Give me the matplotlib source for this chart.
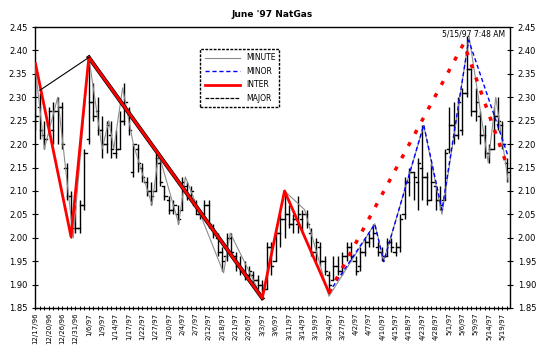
import matplotlib
matplotlib.use('Agg')
import matplotlib.pyplot as plt
from matplotlib.ticker import MultipleLocator, FormatStrFormatter

# tick labels every 3 trading days
tick_dates = ['12/17/96', '12/20/96', '12/26/96', '12/31/96', '1/6/97', '1/9/97',
              '1/14/97', '1/17/97', '1/22/97', '1/27/97', '1/30/97', '2/4/97',
              '2/7/97', '2/12/97', '2/18/97', '2/21/97', '2/26/97', '3/3/97',
              '3/6/97', '3/11/97', '3/14/97', '3/19/97', '3/24/97', '3/27/97',
              '4/2/97', '4/7/97', '4/10/97', '4/15/97', '4/18/97', '4/23/97',
              '4/28/97', '5/1/97', '5/6/97', '5/9/97', '5/14/97', '5/19/97']

# daily bars
high = [2.37, 2.31, 2.25, 2.28, 2.29, 2.30, 2.29, 2.16, 2.10, 2.07,
        2.08, 2.19, 2.39, 2.33, 2.30, 2.26, 2.25, 2.25, 2.23, 2.27,
        2.33, 2.28, 2.20, 2.20, 2.16, 2.13, 2.12, 2.18, 2.17, 2.11,
        2.09, 2.08, 2.07, 2.13, 2.12, 2.11, 2.08, 2.06, 2.08, 2.08,
        2.03, 2.01, 1.98, 2.01, 2.01, 1.97, 1.96, 1.95, 1.94, 1.93,
        1.92, 1.91, 1.99, 1.99, 2.02, 2.05, 2.10, 2.07, 2.05, 2.09,
        2.06, 2.06, 2.02, 2.00, 1.99, 1.96, 1.93, 1.96, 1.96, 1.97,
        1.99, 1.99, 1.96, 1.98, 2.00, 2.01, 2.03, 1.99, 1.98, 2.00,
        2.00, 1.99, 2.05, 2.13, 2.15, 2.14, 2.17, 2.24, 2.14, 2.16,
        2.11, 2.11, 2.19, 2.28, 2.29, 2.30, 2.32, 2.43, 2.36, 2.32,
        2.27, 2.24, 2.20, 2.28, 2.30, 2.25, 2.17]
low = [2.23, 2.21, 2.19, 2.22, 2.20, 2.20, 2.19, 2.08, 2.00, 2.01,
       2.01, 2.06, 2.20, 2.25, 2.22, 2.17, 2.18, 2.17, 2.17, 2.19,
       2.24, 2.22, 2.13, 2.14, 2.12, 2.09, 2.07, 2.10, 2.11, 2.08,
       2.05, 2.05, 2.03, 2.06, 2.08, 2.08, 2.05, 2.04, 2.05, 2.02,
       2.00, 1.96, 1.93, 1.95, 1.96, 1.93, 1.92, 1.91, 1.91, 1.90,
       1.89, 1.87, 1.89, 1.92, 1.95, 1.98, 2.00, 2.02, 2.01, 2.01,
       2.01, 2.02, 1.96, 1.95, 1.94, 1.92, 1.88, 1.91, 1.92, 1.92,
       1.95, 1.95, 1.92, 1.93, 1.96, 1.98, 1.98, 1.96, 1.95, 1.96,
       1.97, 1.96, 1.97, 2.04, 2.09, 2.08, 2.06, 2.08, 2.07, 2.08,
       2.06, 2.06, 2.08, 2.18, 2.20, 2.21, 2.22, 2.30, 2.26, 2.25,
       2.20, 2.17, 2.16, 2.19, 2.23, 2.19, 2.12]
opn = [2.33, 2.28, 2.22, 2.24, 2.23, 2.27, 2.28, 2.15, 2.09, 2.02,
       2.02, 2.07, 2.21, 2.29, 2.27, 2.23, 2.20, 2.22, 2.18, 2.19,
       2.25, 2.27, 2.14, 2.19, 2.15, 2.12, 2.10, 2.10, 2.16, 2.11,
       2.08, 2.06, 2.05, 2.06, 2.11, 2.09, 2.07, 2.05, 2.05, 2.07,
       2.02, 2.00, 1.97, 1.96, 2.00, 1.96, 1.94, 1.93, 1.92, 1.92,
       1.91, 1.90, 1.89, 1.98, 1.95, 2.01, 2.04, 2.05, 2.03, 2.03,
       2.04, 2.05, 2.01, 1.97, 1.98, 1.95, 1.92, 1.91, 1.94, 1.93,
       1.96, 1.98, 1.95, 1.94, 1.97, 1.99, 2.00, 1.98, 1.97, 1.96,
       1.99, 1.97, 1.98, 2.05, 2.12, 2.14, 2.12, 2.15, 2.13, 2.08,
       2.11, 2.08, 2.08, 2.19, 2.24, 2.22, 2.23, 2.31, 2.36, 2.27,
       2.26, 2.22, 2.18, 2.19, 2.26, 2.24, 2.16]
close = [2.26, 2.23, 2.21, 2.27, 2.27, 2.28, 2.20, 2.09, 2.02, 2.02,
         2.07, 2.18, 2.29, 2.26, 2.23, 2.20, 2.24, 2.19, 2.19, 2.25,
         2.29, 2.23, 2.20, 2.16, 2.13, 2.10, 2.09, 2.17, 2.12, 2.09,
         2.06, 2.07, 2.04, 2.12, 2.09, 2.10, 2.05, 2.05, 2.07, 2.03,
         2.01, 1.97, 1.95, 2.00, 1.97, 1.94, 1.93, 1.92, 1.93, 1.91,
         1.90, 1.89, 1.98, 1.94, 2.01, 2.04, 2.05, 2.03, 2.04, 2.05,
         2.05, 2.03, 1.97, 1.99, 1.95, 1.93, 1.90, 1.94, 1.93, 1.96,
         1.98, 1.96, 1.93, 1.97, 1.99, 2.00, 2.01, 1.97, 1.96, 1.99,
         1.98, 1.98, 2.04, 2.12, 2.14, 2.13, 2.16, 2.13, 2.08, 2.12,
         2.08, 2.07, 2.18, 2.24, 2.22, 2.29, 2.31, 2.36, 2.27, 2.29,
         2.22, 2.18, 2.19, 2.26, 2.25, 2.20, 2.14]

# wave lines (day index, price)
minute_x = [0, 2, 5, 8.5, 12, 15, 16.5, 17.6, 19.6, 22, 26.2, 27.7, 32.2, 33.7,
            42.3, 43.8, 51, 56, 60.5, 66, 76.3, 78.3, 87.3, 91.4, 97.5, 101.8,
            103.5, 106.3]
minute_y = [2.36, 2.19, 2.30, 2.00, 2.385, 2.19, 2.25, 2.19, 2.32, 2.20, 2.07,
            2.18, 2.03, 2.13, 1.925, 2.01, 1.871, 2.10, 2.06, 1.875, 2.03, 1.95,
            2.24, 2.05, 2.43, 2.16, 2.30, 2.12]
minor_x = [66, 76.3, 78.3, 87.3, 91.4, 97.4, 106.3]
minor_y = [1.883, 2.029, 1.949, 2.241, 2.059, 2.422, 2.173]
inter_x = [0, 8, 12, 51, 56, 66]
inter_y = [2.372, 2.002, 2.385, 1.871, 2.100, 1.883]
inter_open_x = [66, 96.3, 106]
inter_open_y = [1.883, 2.415, 2.155]
major_x = [1, 12, 51]
major_y = [2.315, 2.385, 1.871]

fig = plt.figure(figsize=(5.38, 3.55), dpi=100)
ax = fig.add_axes([0.0651, 0.1324, 0.8829, 0.7915])

days = range(len(high))
ax.vlines(days, low, high, color='black', lw=1.0, zorder=2)
for d in days:
    ax.plot([d - 0.5, d], [opn[d], opn[d]], color='black', lw=1.0, zorder=2)
    ax.plot([d, d + 0.5], [close[d], close[d]], color='black', lw=1.0, zorder=2)

ax.plot(minute_x, minute_y, color='#8c8c8c', lw=0.8, zorder=3, label='MINUTE')
ax.plot(minor_x, minor_y, color='blue', lw=1, ls=(0, (3, 2)), zorder=4, label='MINOR')
# major: thin leg, then the leg hidden under the red inter line
ax.plot(major_x[:2], major_y[:2], color='black', lw=0.8, zorder=6)
ax.plot(major_x[1:], major_y[1:], color='black', lw=2.9, zorder=4)
ax.plot(inter_x, inter_y, color='red', lw=2, zorder=5, label='INTER')
ax.plot(inter_open_x, inter_open_y, color='red', lw=2.5, ls=(0, (1.2, 2.8)), zorder=5)
ax.plot([], [], color='black', lw=0.9, ls=(0, (3, 1)), label='MAJOR')

ax.set_xlim(-0.1, 106.7)
ax.set_ylim(1.85, 2.45)
ax.set_xticks(range(0, 106, 3))
ax.set_xticklabels(tick_dates, rotation=90, fontsize=5)
ax.xaxis.set_minor_locator(MultipleLocator(1))
ax.yaxis.set_major_locator(MultipleLocator(0.05))
ax.yaxis.set_major_formatter(FormatStrFormatter('%.2f'))
ax.tick_params(axis='y', labelsize=6, right=True, labelright=True,
               direction='inout', length=4, width=0.8)
ax.tick_params(axis='x', which='both', direction='inout', length=3, width=0.7, pad=2)
for s in ax.spines.values():
    s.set_linestyle((0, (2, 1)))
    s.set_linewidth(1)

ax.text(105.5, 2.435, '5/15/97 7:48 AM', fontsize=5.5, ha='right', va='center')
fig.text(0.506, 0.96, "June '97 NatGas", fontsize=6.5, fontweight='bold',
         ha='center', va='center')

leg = ax.legend(loc='upper left', bbox_to_anchor=(0.34, 0.935), fontsize=5.5,
                handlelength=4.6, labelspacing=0.6, borderpad=0.55,
                fancybox=False, framealpha=1, edgecolor='black')
leg.get_frame().set_linestyle((0, (2, 1)))
leg.get_frame().set_linewidth(1)

fig.savefig('out.png', dpi=100)
